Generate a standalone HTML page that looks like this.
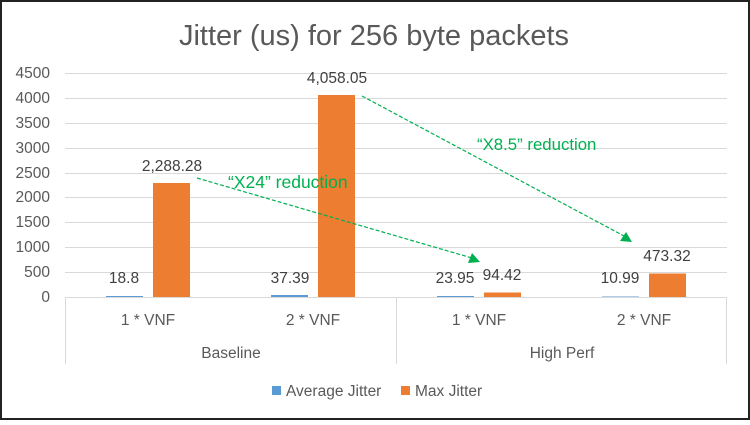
<!DOCTYPE html>
<html><head><style>
body{margin:0;background:#fff}
</style></head><body>
<svg width="750" height="420" xmlns="http://www.w3.org/2000/svg" font-family="Liberation Sans, sans-serif">
<rect x="1" y="1" width="748" height="418" fill="#fff" stroke="#222" stroke-width="2"/>
<text x="374" y="45" text-anchor="middle" font-size="29" fill="#595959">Jitter (us) for 256 byte packets</text>
<g stroke="#d9d9d9" stroke-width="1">
<line x1="65" x2="727" y1="73.5" y2="73.5"/><line x1="65" x2="727" y1="98.5" y2="98.5"/>
<line x1="65" x2="727" y1="123.5" y2="123.5"/><line x1="65" x2="727" y1="148.5" y2="148.5"/>
<line x1="65" x2="727" y1="173.5" y2="173.5"/><line x1="65" x2="727" y1="197.5" y2="197.5"/>
<line x1="65" x2="727" y1="222.5" y2="222.5"/><line x1="65" x2="727" y1="247.5" y2="247.5"/>
<line x1="65" x2="727" y1="272.5" y2="272.5"/>
<line x1="65" x2="727" y1="297.5" y2="297.5"/>
<line x1="65.5" x2="65.5" y1="297" y2="364"/><line x1="396.5" x2="396.5" y1="297" y2="364"/><line x1="726.5" x2="726.5" y1="297" y2="364"/>
</g>
<g font-size="15.5" fill="#595959" text-anchor="end">
<text x="50" y="78">4500</text><text x="50" y="103">4000</text><text x="50" y="128">3500</text>
<text x="50" y="153">3000</text><text x="50" y="178">2500</text><text x="50" y="202">2000</text>
<text x="50" y="227">1500</text><text x="50" y="252">1000</text><text x="50" y="277">500</text><text x="50" y="302">0</text>
</g>
<g fill="#5b9bd5">
<rect x="106" y="296" width="37" height="1"/><rect x="271" y="295" width="37" height="2"/>
<rect x="437" y="296" width="37" height="1"/><rect x="602" y="296.5" width="37" height="0.5"/>
</g>
<g fill="#ed7d31">
<rect x="153" y="183" width="37" height="114"/><rect x="318" y="95" width="37" height="202"/>
<rect x="484" y="292.5" width="37" height="4.5"/><rect x="649" y="273.5" width="37" height="23.5"/>
</g>
<g font-size="15.5" fill="#404040" text-anchor="middle">
<text x="124" y="283">18.8</text><text x="172" y="171">2,288.28</text>
<text x="290" y="283">37.39</text><text x="337" y="83">4,058.05</text>
<text x="455" y="283">23.95</text><text x="502" y="280">94.42</text>
<text x="620" y="283">10.99</text><text x="667" y="261">473.32</text>
</g>
<g font-size="15.5" fill="#595959" text-anchor="middle">
<text x="148" y="325">1 * VNF</text><text x="313" y="325">2 * VNF</text>
<text x="479" y="325">1 * VNF</text><text x="644" y="325">2 * VNF</text>
<text x="231" y="358">Baseline</text><text x="562" y="358">High Perf</text>
</g>
<rect x="272" y="386" width="9" height="9" fill="#5b9bd5"/>
<text x="286" y="396" font-size="15.5" fill="#595959">Average Jitter</text>
<rect x="401" y="386" width="9" height="9" fill="#ed7d31"/>
<text x="415" y="396" font-size="15.5" fill="#595959">Max Jitter</text>
<g stroke="#00b050" stroke-width="1.2" stroke-dasharray="4,2" fill="none">
<line x1="197" y1="178" x2="472" y2="258"/>
<line x1="362" y1="96" x2="624" y2="236"/>
</g>
<polygon points="480,262 468,263 472,253" fill="#00b050"/>
<polygon points="632,242 620,241 626,232" fill="#00b050"/>
<text x="228" y="188" font-size="17.5" fill="#00b050">“X24” reduction</text>
<text x="477" y="150" font-size="16.8" fill="#00b050">“X8.5” reduction</text>
</svg>
</body></html>
